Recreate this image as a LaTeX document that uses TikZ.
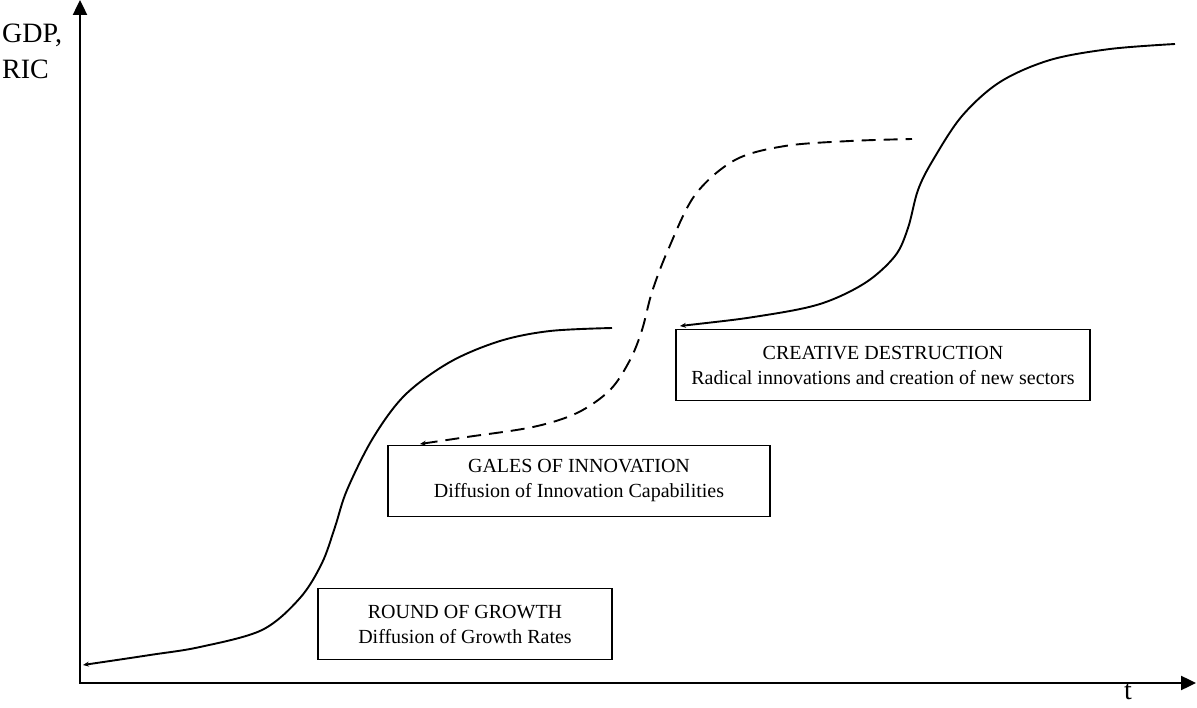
\documentclass[tikz,border=0pt]{standalone}
\usepackage{fontspec}
\setmainfont{Liberation Serif}
\usetikzlibrary{positioning,arrows.meta}

\begin{document}
\begin{tikzpicture}[x=1pt, y=-1pt,
        axis/.style={line width=2.4pt, {Triangle[length=15pt,width=14pt]}-{Triangle[length=15pt,width=14pt]}},
        growth/.style={line width=1.9pt, {Stealth[length=6pt,width=5pt]}-},
        phase/.style={rectangle, draw, line width=1.9pt, minimum height=71pt, inner sep=0pt, align=center, font=\fontsize{20}{25}\selectfont},
        axislabel/.style={font=\fontsize{28}{36}\selectfont, align=left, inner sep=0pt}
    ]
    \useasboundingbox (0,0) rectangle (1197,708);

    % Axes
    \coordinate (O) at (80,683);
    \coordinate (ytop) at (80,0);
    \coordinate (xend) at (1196,683);
    \draw[axis] (ytop) -- (O) -- (xend);
    \node[axislabel, anchor=base west] (ylab) at (2,79) {GDP,\\RIC};
    \node[axislabel, anchor=base] (xlab) at (1128,699) {t};

    % Growth curves
    \draw[growth] plot[smooth, tension=0.55] coordinates {(83,665) (150,655) (200,647) (262,630) (300,598) (322,563) (335,527) (347,490) (373,438) (405,395) (450,362) (500,341) (550,331) (612,328)};
    \draw[growth, dashed, dash pattern=on 14pt off 8pt] plot[smooth, tension=0.55] coordinates {(420,444) (467,437) (533,427) (577,413) (610,390) (630,360) (642,330) (652,292) (668,250) (695,195) (735,160) (785,146) (850,141) (912,139)};
    \draw[growth] plot[smooth, tension=0.55] coordinates {(680,326) (760,316) (820,304) (865,283) (895,256) (908,228) (918,190) (933,160) (962,116) (1000,82) (1050,60) (1110,49) (1175,44)};

    % Phases
    \node[phase, minimum width=294pt] (round) at (465,624) {ROUND OF GROWTH\\Diffusion of Growth Rates};
    \node[phase, minimum width=382pt] (gales) at (579,481) {GALES OF INNOVATION\\Diffusion of Innovation Capabilities};
    \node[phase, minimum width=414pt] (creative) at (883,365) {CREATIVE DESTRUCTION\\Radical innovations and creation of new sectors};
\end{tikzpicture}
\end{document}
